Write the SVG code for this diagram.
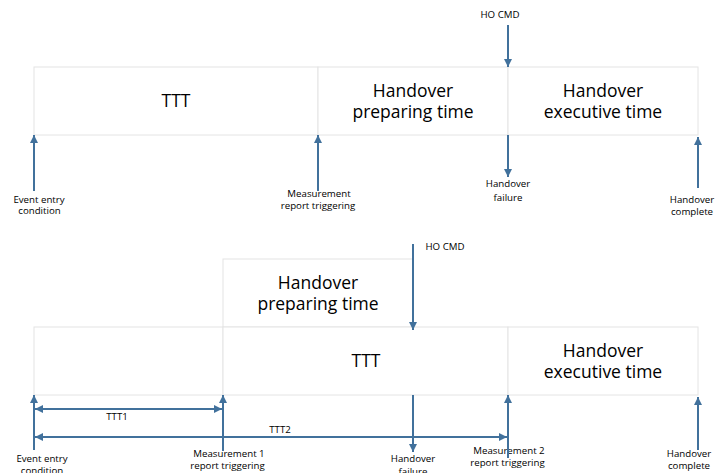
<svg xmlns="http://www.w3.org/2000/svg" width="718" height="473" viewBox="0 0 718 473">
<defs>
<marker id="ah" viewBox="0 0 8 8" refX="8" refY="4" markerWidth="8" markerHeight="8" markerUnits="userSpaceOnUse" orient="auto-start-reverse">
<path d="M0,0 L8,4 L0,8 Z" fill="#41719C"/>
</marker>
</defs>
<style>
.box{fill:#ffffff;stroke:#e4e4e4;stroke-width:1}
.big{font-family:"Open Sans","Liberation Sans",sans-serif;font-size:17.5px;fill:#000;text-anchor:middle}
.sm{font-family:"Open Sans","Liberation Sans",sans-serif;font-size:9.7px;fill:#000;text-anchor:middle}
.arr{stroke:#41719C;stroke-width:2;fill:none;marker-end:url(#ah)}
.dbl{stroke:#41719C;stroke-width:2;fill:none;marker-start:url(#ah);marker-end:url(#ah)}
</style>
<rect width="718" height="473" fill="#ffffff"/>

<!-- Top timeline -->
<g id="top-ttt">
<rect class="box" x="34" y="67" width="284" height="68"/>
<text class="big" x="176" y="107">TTT</text>
</g>
<g id="top-prep">
<rect class="box" x="318" y="67" width="190" height="68"/>
<text class="big" x="413" y="96.5">Handover</text>
<text class="big" x="413" y="117.5">preparing time</text>
</g>
<g id="top-exec">
<rect class="box" x="508" y="67" width="190" height="68"/>
<text class="big" x="603" y="96.5">Handover</text>
<text class="big" x="603" y="117.5">executive time</text>
</g>

<!-- Bottom timeline -->
<g id="bot-prep">
<rect class="box" x="223" y="259" width="190" height="68"/>
<text class="big" x="318" y="288.5">Handover</text>
<text class="big" x="318" y="309.5">preparing time</text>
</g>
<g id="bot-left">
<rect class="box" x="34" y="327" width="189" height="68"/>
</g>
<g id="bot-ttt">
<rect class="box" x="223" y="327" width="285" height="68"/>
<text class="big" x="366" y="367">TTT</text>
</g>
<g id="bot-exec">
<rect class="box" x="508" y="327" width="190" height="68"/>
<text class="big" x="603" y="356.5">Handover</text>
<text class="big" x="603" y="377.5">executive time</text>
</g>

<!-- Labels -->
<g id="labels">
<text class="sm" x="500" y="18">HO CMD</text>
<text class="sm" x="39" y="203">Event entry</text>
<text class="sm" x="39.5" y="214">condition</text>
<text class="sm" x="319" y="197">Measurement</text>
<text class="sm" x="318" y="208.5">report triggering</text>
<text class="sm" x="508" y="187">Handover</text>
<text class="sm" x="508" y="200.5">failure</text>
<text class="sm" x="692" y="203">Handover</text>
<text class="sm" x="692" y="215">complete</text>

<text class="sm" x="445" y="250">HO CMD</text>
<text class="sm" x="117" y="420">TTT1</text>
<text class="sm" x="280" y="433">TTT2</text>
<text class="sm" x="42" y="462">Event entry</text>
<text class="sm" x="42" y="474">condition</text>
<text class="sm" x="229" y="457">Measurement 1</text>
<text class="sm" x="227.5" y="468.5">report triggering</text>
<text class="sm" x="413" y="462">Handover</text>
<text class="sm" x="413" y="475">failure</text>
<text class="sm" x="509" y="454">Measurement 2</text>
<text class="sm" x="507.5" y="465.5">report triggering</text>
<text class="sm" x="689" y="457">Handover</text>
<text class="sm" x="689" y="469">complete</text>
</g>

<!-- Connectors -->
<g id="connectors">
<line class="arr" x1="508" y1="25" x2="508" y2="67"/>
<line class="arr" x1="508" y1="135" x2="508" y2="177"/>
<line class="arr" x1="34" y1="191" x2="34" y2="135"/>
<line class="arr" x1="318" y1="191" x2="318" y2="135"/>
<line class="arr" x1="698" y1="188" x2="698" y2="137"/>

<line class="arr" x1="413" y1="244" x2="413" y2="330"/>
<line class="arr" x1="413" y1="395" x2="413" y2="452"/>
<line class="arr" x1="34" y1="450" x2="34" y2="395"/>
<line class="arr" x1="223" y1="451" x2="223" y2="395"/>
<line class="arr" x1="508" y1="458" x2="508" y2="395"/>
<line class="arr" x1="698" y1="450" x2="698" y2="397"/>
<line class="dbl" x1="35" y1="409" x2="222" y2="409"/>
<line class="dbl" x1="35" y1="437" x2="507" y2="437"/>
</g>
</svg>
